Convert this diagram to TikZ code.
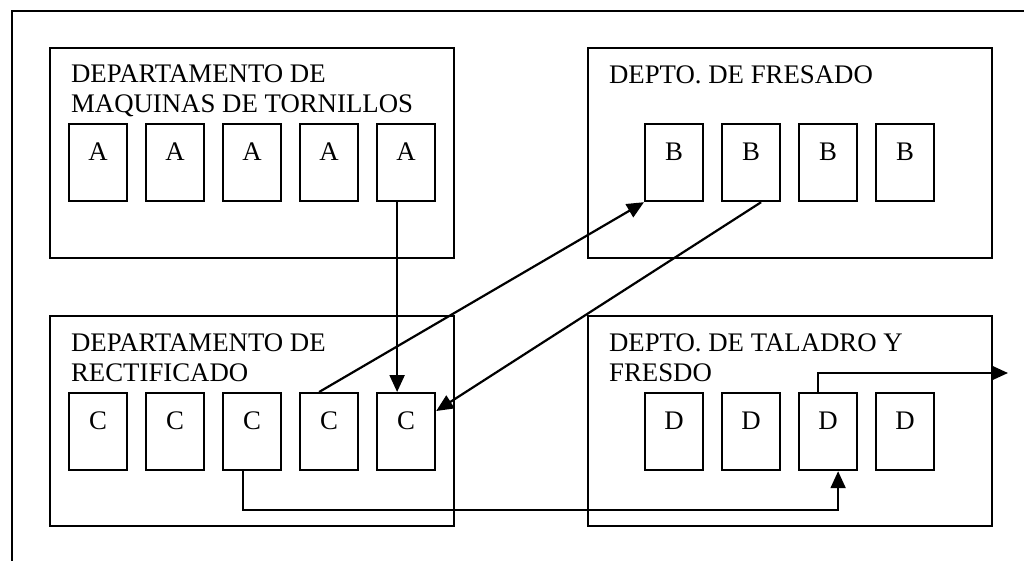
\documentclass[tikz,border=0pt]{standalone}
\usepackage{fontspec}
\setmainfont{Liberation Serif}
\usepackage{tikz}
\usetikzlibrary{arrows.meta}

\begin{document}
\begin{tikzpicture}[x=1pt,y=-1pt,line width=2.2pt,
  depto/.style={draw,anchor=north west,minimum width=404pt,minimum height=210pt,inner sep=0pt},
  titulo/.style={anchor=base west,align=left,inner sep=0pt,font=\fontsize{26.8}{29.5}\selectfont},
  maq/.style={draw,anchor=north west,inner sep=0pt,minimum width=58pt,
    text height=36pt,text depth=41pt,font=\fontsize{26.8}{29.5}\selectfont},
  flujo/.style={-{Triangle[length=17pt,width=15pt]}}]
  \useasboundingbox (0,0) rectangle (1024,560);
  \draw (12,11) rectangle (1040,580);
  \node[depto] (depA) at (49,47) {};
  \node[depto] (depB) at (587,47) {};
  \node[depto] (depC) at (49,315) {};
  \node[depto] (depD) at (587,315) {};
  \node[titulo] (titA) at (70,112) {DEPARTAMENTO DE\\MAQUINAS DE TORNILLOS};
  \node[titulo] (titB) at (608,83) {DEPTO. DE FRESADO};
  \node[titulo] (titC) at (70,381) {DEPARTAMENTO DE\\RECTIFICADO};
  \node[titulo] (titD) at (608,381) {DEPTO. DE TALADRO Y\\FRESDO};
  \foreach \i in {1,...,5} {
    \node[maq] (a\i) at ({68+77*(\i-1)},123) {A};
    \node[maq] (c\i) at ({68+77*(\i-1)},392) {C};
  }
  \foreach \i in {1,...,4} {
    \node[maq] (b\i) at ({644+77*(\i-1)},123) {B};
    \node[maq] (d\i) at ({644+77*(\i-1)},392) {D};
  }
  \coordinate (salida) at (1008,373);
  \draw[flujo] ([xshift=-9pt]a5.south) -- ([xshift=-9pt]c5.north);
  \draw[flujo] ([xshift=-10pt]c4.north) -- (b1.south west);
  \draw[flujo] ([xshift=10pt]b2.south) -- ([yshift=-19pt]c5.north east);
  \draw[flujo] ([xshift=-9pt]c3.south) -- ++(0,39) -| ([xshift=10pt]d3.south);
  \draw[flujo] ([xshift=-10pt]d3.north) |- (salida);
\end{tikzpicture}
\end{document}
